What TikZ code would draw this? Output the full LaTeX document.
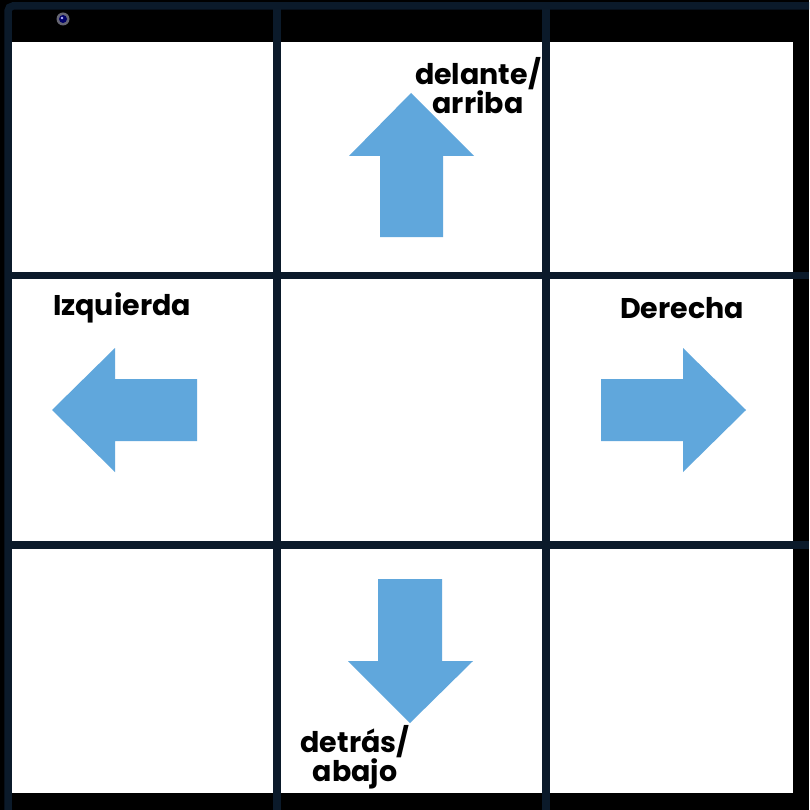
\documentclass[tikz,border=0pt]{standalone}
\usepackage{fontspec}
\setmainfont{Poppins}
\definecolor{navy}{HTML}{0B1A2A}
\definecolor{arrowblue}{HTML}{60A7DC}
\begin{document}
\begin{tikzpicture}[x=1pt,y=-1pt,
  gridline/.style={draw=navy,line width=7.5pt},
  bluearrow/.style={fill=arrowblue,draw=none},
  lbl/.style={font=\fontsize{28.5}{29}\selectfont\bfseries,align=center,inner sep=0pt,text=black}]
\useasboundingbox (0,0) rectangle (809,810);
\fill[black] (0,0) rectangle (809,810);
\fill[white] (12,42) rectangle (793,793);
% grid lines
\draw[gridline,rounded corners=5pt] (8,810) -- (8,6) -- (809,6);
\draw[gridline] (277,6) -- (277,810);
\draw[gridline] (546,6) -- (546,810);
\draw[gridline] (8,275.5) -- (809,275.5);
\draw[gridline] (8,545) -- (809,545);
% webcam
\fill[black!75!blue!20!gray] (63,19) circle (6.5);
\fill[black!60!blue] (63,19) circle (4);
\fill[white!70!blue] (62,18) circle (1.3);
% arrows
\fill[bluearrow] (411,93) -- (474,156) -- (443,156) -- (443,237) -- (380,237) -- (380,156) -- (349,156) -- cycle;
\fill[bluearrow] (410,723) -- (473,661) -- (442,661) -- (442,579) -- (378,579) -- (378,661) -- (348,661) -- cycle;
\fill[bluearrow] (52,410) -- (115,348) -- (115,379) -- (197,379) -- (197,441) -- (115,441) -- (115,472) -- cycle;
\fill[bluearrow] (746,410) -- (683,348) -- (683,379) -- (601,379) -- (601,441) -- (683,441) -- (683,472) -- cycle;
% labels
\node[lbl] (up) at (478,86) {delante/\\arriba};
\node[lbl] (left) at (122,308) {Izquierda};
\node[lbl] (right) at (682,308) {Derecha};
\node[lbl] (down) at (355,757) {detrás/\\abajo};
\end{tikzpicture}
\end{document}
